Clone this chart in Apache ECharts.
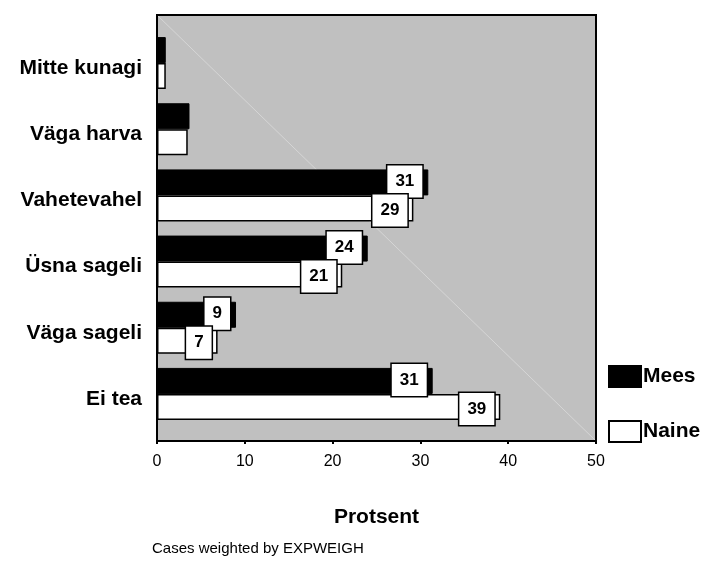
<!DOCTYPE html>
<html>
<head>
<meta charset="utf-8">
<script src="https://cdn.jsdelivr.net/npm/echarts@6/dist/echarts.min.js"></script>
<style>
  html, body { margin: 0; padding: 0; background: #fff; }
  #chart { width: 705px; height: 568px; }
</style>
</head>
<body>
<div id="chart"></div>
<script>
// kategooriad ülevalt alla
var categories = ['Mitte kunagi', 'Väga harva', 'Vahetevahel', 'Üsna sageli', 'Väga sageli', 'Ei tea'];
var seriesNames = ['Mees', 'Naine'];
var mees = [1.0, 3.7, 30.9, 24.0, 9.0, 31.4];
var naine = [1.0, 3.5, 29.2, 21.1, 6.9, 39.1];
var xTicks = [0, 10, 20, 30, 40, 50];

var font = 'Liberation Sans, Arial, sans-serif';

function toData(arr) {
    // väikestel väärtustel silti pole
    return arr.map(function (v) {
        return { value: v, label: { show: v >= 5 } };
    });
}

var labelStyle = {
    show: true,
    position: 'insideRight',
    distance: 6,
    formatter: function (p) { return Math.round(p.value); },
    color: '#000',
    fontFamily: font,
    fontWeight: 'bold',
    fontSize: 17,
    lineHeight: 17,
    backgroundColor: '#fff',
    borderColor: '#000',
    borderWidth: 1.5,
    padding: [8, 8, 7, 8]
};

var chart = echarts.init(document.getElementById('chart'));

var option = {
    animation: false,
    textStyle: { fontFamily: font },
    grid: { left: 157, right: 109, top: 30, bottom: 141 },
    graphic: [
        {
            type: 'rect', z: -10, silent: true,
            shape: { x: 157, y: 15, width: 439, height: 426 },
            style: { fill: '#c0c0c0', stroke: null }
        },
        {
            type: 'line', z: -9, silent: true,
            shape: { x1: 157, y1: 15, x2: 596, y2: 441 },
            style: { stroke: '#d6d6d6', lineWidth: 1 }
        },
        {
            type: 'rect', z: 100, silent: true,
            shape: { x: 157, y: 15, width: 439, height: 426 },
            style: { fill: null, stroke: '#000', lineWidth: 2 }
        },
        {
            type: 'text', left: 152, top: 541,
            style: { text: 'Cases weighted by EXPWEIGH', font: '15px ' + font, fill: '#000' }
        }
    ],
    legend: {
        orient: 'vertical',
        left: 603,
        top: 360,
        itemWidth: 32,
        itemHeight: 21,
        itemGap: 32,
        icon: 'rect',
        data: seriesNames,
        textStyle: { fontFamily: font, fontWeight: 'bold', fontSize: 21, color: '#000', padding: [2, 0, 0, -3] }
    },
    xAxis: {
        type: 'value',
        min: 0,
        max: 50,
        interval: 10,
        offset: 14,
        axisLine: { show: false },
        axisTick: { show: true, length: 3, lineStyle: { color: '#000', width: 2 } },
        splitLine: { show: false },
        axisLabel: {
            margin: 13,
            fontSize: 16,
            color: '#000',
            fontFamily: font,
            formatter: function (v) { return xTicks.indexOf(v) >= 0 ? v : ''; }
        },
        name: 'Protsent',
        nameLocation: 'middle',
        nameGap: 66,
        nameTextStyle: { fontFamily: font, fontWeight: 'bold', fontSize: 21, color: '#000' }
    },
    yAxis: {
        type: 'category',
        data: categories,
        inverse: true,
        axisLine: { show: false },
        axisTick: { show: false },
        axisLabel: {
            margin: 15,
            fontSize: 21,
            fontWeight: 'bold',
            color: '#000',
            fontFamily: font,
            verticalAlign: 'top',
            lineHeight: 10
        }
    },
    series: [
        {
            name: seriesNames[0],
            type: 'bar',
            barWidth: 26,
            barGap: '0%',
            data: toData(mees),
            itemStyle: { color: '#000', borderColor: '#000', borderWidth: 1 },
            label: Object.assign({}, labelStyle, { offset: [0, -1] })
        },
        {
            name: seriesNames[1],
            type: 'bar',
            barWidth: 26,
            barGap: '0%',
            data: toData(naine),
            itemStyle: { color: '#fff', borderColor: '#000', borderWidth: 1.5 },
            label: Object.assign({}, labelStyle, { offset: [0, 2] })
        }
    ]
};

chart.setOption(option);
</script>
</body>
</html>
